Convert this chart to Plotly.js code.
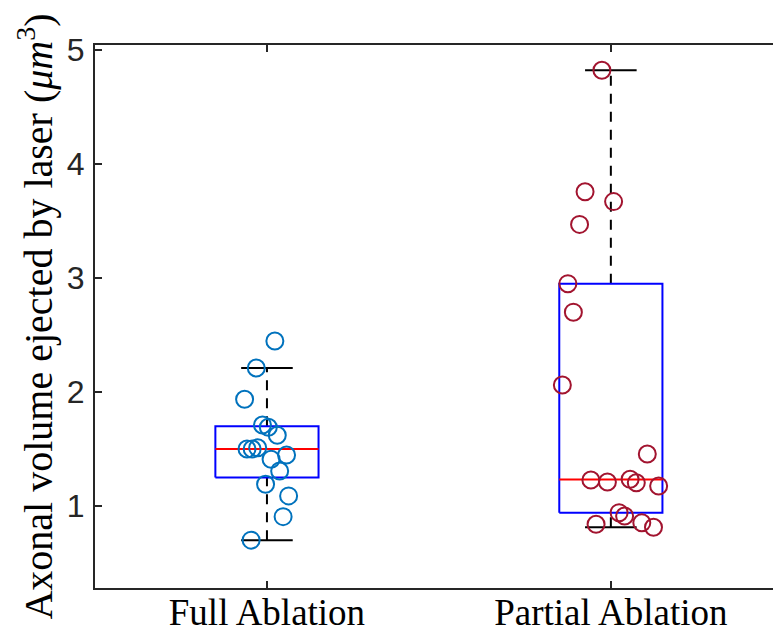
<!DOCTYPE html>
<html>
<head>
<meta charset="utf-8">
<script src="https://cdn.plot.ly/plotly-3.0.1.min.js"></script>
<style>html,body{margin:0;padding:0;background:#fff;}#chart{width:773px;height:632px;}</style>
</head>
<body>
<div id="chart"></div>
<script>
// ---- data ----
const categories = ["Full Ablation", "Partial Ablation"];
const fullValues = [2.447, 2.21, 1.936, 1.71, 1.69, 1.62, 1.50, 1.50, 1.51, 1.447, 1.41, 1.307, 1.19, 1.088, 0.906, 0.70];
const fullJitter = [0.023, -0.031, -0.065, -0.013, 0.004, 0.030, -0.058, -0.043, -0.027, 0.057, 0.012, 0.037, -0.004, 0.063, 0.047, -0.046];
const partialValues = [4.822, 3.757, 3.67, 3.47, 2.95, 2.70, 2.061, 1.456, 1.228, 1.21, 1.234, 1.204, 1.175, 0.941, 0.912, 0.839, 0.853, 0.813];
const partialJitter = [-0.026, -0.075, 0.008, -0.091, -0.125, -0.109, -0.141, 0.106, -0.058, -0.010, 0.056, 0.074, 0.139, 0.024, 0.040, -0.043, 0.090, 0.124];
const yTicks = [1, 2, 3, 4, 5];

// ---- MATLAB-style percentile ----
function prctile(arr, p) {
  const s = arr.slice().sort((a, b) => a - b);
  const n = s.length;
  const pos = p / 100 * n + 0.5; // 1-based
  if (pos <= 1) return s[0];
  if (pos >= n) return s[n - 1];
  const lo = Math.floor(pos), f = pos - lo;
  return s[lo - 1] + f * (s[lo] - s[lo - 1]);
}
function stats(arr) {
  const q1 = prctile(arr, 25), med = prctile(arr, 50), q3 = prctile(arr, 75);
  const iqr = q3 - q1;
  const hiF = q3 + 1.5 * iqr, loF = q1 - 1.5 * iqr;
  const upper = Math.max(...arr.filter(v => v <= hiF));
  const lower = Math.min(...arr.filter(v => v >= loF));
  return {q1, med, q3, upper, lower};
}

const halfW = 0.15, capHalf = 0.075;
const traces = [];
function addBox(center, values) {
  const s = stats(values);
  const dashStyle = {color: '#000000', width: 2, dash: '10px,8px'};
  traces.push({x: [center, center], y: [s.q3, s.upper], mode: 'lines', line: dashStyle, hoverinfo: 'skip'});
  traces.push({x: [center, center], y: [s.lower, s.q1], mode: 'lines', line: dashStyle, hoverinfo: 'skip'});
  traces.push({x: [center - capHalf, center + capHalf], y: [s.upper, s.upper], mode: 'lines', line: {color: '#000000', width: 2}, hoverinfo: 'skip'});
  traces.push({x: [center - capHalf, center + capHalf], y: [s.lower, s.lower], mode: 'lines', line: {color: '#000000', width: 2}, hoverinfo: 'skip'});
  traces.push({x: [center - halfW, center + halfW, center + halfW, center - halfW, center - halfW],
               y: [s.q1, s.q1, s.q3, s.q3, s.q1], mode: 'lines', line: {color: '#0000FF', width: 2}, hoverinfo: 'skip'});
  traces.push({x: [center - halfW, center + halfW], y: [s.med, s.med], mode: 'lines', line: {color: '#FF0000', width: 2}, hoverinfo: 'skip'});
}
addBox(1, fullValues);
addBox(2, partialValues);
traces.push({x: fullValues.map((v, i) => 1 + fullJitter[i]), y: fullValues, mode: 'markers',
  marker: {symbol: 'circle-open', size: 17, line: {color: '#0072BD', width: 2}, color: '#0072BD'}});
traces.push({x: partialValues.map((v, i) => 2 + partialJitter[i]), y: partialValues, mode: 'markers',
  marker: {symbol: 'circle-open', size: 17, line: {color: '#A2142F', width: 2}, color: '#A2142F'}});

const layout = {
  width: 773, height: 632,
  margin: {l: 95, r: 0, t: 45, b: 44},
  paper_bgcolor: '#ffffff', plot_bgcolor: '#ffffff',
  showlegend: false,
  xaxis: {
    range: [0.5, 2.4715], tickvals: [1, 2], ticktext: categories,
    showgrid: false, zeroline: false,
    showline: true, linecolor: '#262626', linewidth: 2, mirror: 'ticks',
    ticks: 'inside', ticklen: 7, tickwidth: 2, tickcolor: '#262626',
    tickfont: {family: 'Liberation Serif, serif', size: 37, color: '#000000'},
    ticklabelstandoff: -9
  },
  yaxis: {
    range: [0.28, 5.044], tickvals: yTicks,
    showgrid: false, zeroline: false,
    showline: true, linecolor: '#262626', linewidth: 2, mirror: false,
    ticks: 'inside', ticklen: 7, tickwidth: 2, tickcolor: '#262626',
    tickfont: {family: 'Liberation Sans, Arial, sans-serif', size: 32, color: '#262626'},
    ticklabelstandoff: 2,
    title: {text: 'Axonal volume ejected by laser (<i>μm</i><sup>3</sup>)',
            font: {family: 'Liberation Serif, serif', size: 40, color: '#000000'}, standoff: 2}
  }
};
Plotly.newPlot('chart', traces, layout, {displayModeBar: false, staticPlot: true});
</script>
</body>
</html>
